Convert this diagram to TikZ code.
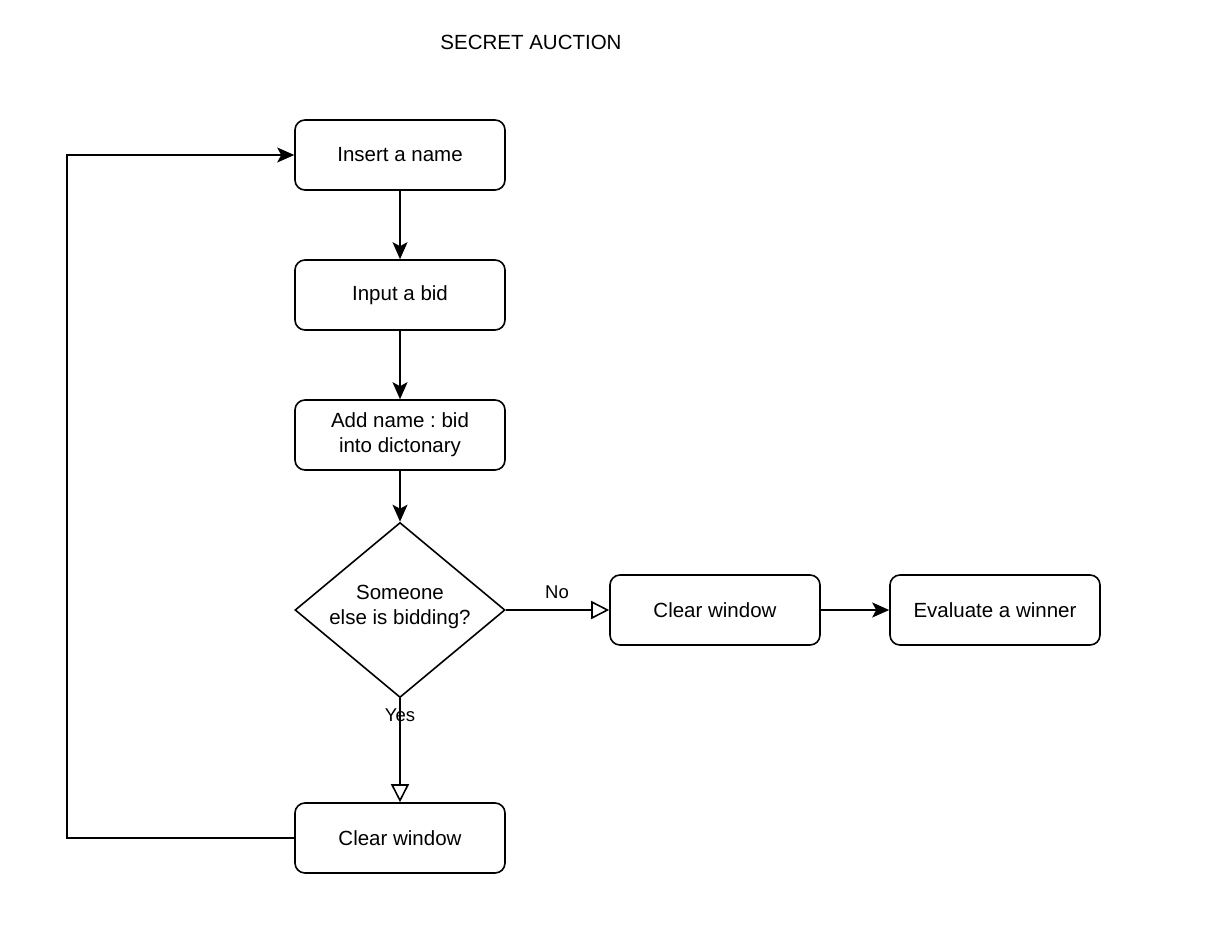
\documentclass[tikz,border=0pt]{standalone}
\usepackage{fontspec}
\setmainfont{Liberation Sans}
\frenchspacing
\usetikzlibrary{shapes.geometric,arrows.meta}
\tikzset{
  stepbox/.style={draw, rectangle, rounded corners=10pt, line width=1.6pt,
    minimum width=210pt, minimum height=70pt, align=center,
    font=\fontsize{20.5}{25}\selectfont},
  decision/.style={draw, diamond, line width=1.6pt, inner sep=0pt,
    minimum width=210pt, minimum height=175pt},
  flow/.style={line width=1.6pt, -{Stealth[length=17pt,width=15pt,inset=4pt]}},
  openflow/.style={line width=1.6pt, -{Triangle[open,length=18pt,width=18pt,fill=white]}},
  edgelabel/.style={font=\fontsize{18.5}{22}\selectfont}
}
\begin{document}
\begin{tikzpicture}[x=1pt,y=-1pt]
        \useasboundingbox[fill=white] (0,0) rectangle (1212,931);
        \node[font=\fontsize{20.5}{25}\selectfont] (title) at (531,42) {SECRET AUCTION};

        \node[stepbox] (name) at (400,155) {Insert a name};
        \node[stepbox] (bid) at (400,295) {Input a bid};
        \node[stepbox] (dict) at (400,435) {Add name : bid\\into dictonary};
        \node[decision] (ask) at (400,610) {};
        \node[align=center, font=\fontsize{20.5}{25}\selectfont] (asktext) at (400,607) {Someone\\else is bidding?};
        \node[stepbox] (clearno) at (715,610) {Clear window};
        \node[stepbox] (winner) at (995,610) {Evaluate a winner};
        \node[stepbox] (clearyes) at (400,838) {Clear window};

        \draw[flow] (name) -- (bid);
        \draw[flow] (bid) -- (dict);
        \draw[flow] (dict) -- (ask);
        \draw[openflow] (ask.east) -- (clearno.west);
        \node[edgelabel] (no) at (557,592) {No};
        \draw[flow] (clearno) -- (winner);
        \draw[openflow] (ask.south) -- (clearyes.north);
        \node[edgelabel] (yes) at (400,715) {Yes};

        % loop back to the start
        \coordinate (turn) at (67,838);
        \draw[flow] (clearyes.west) -- (turn) |- (name.west);
\end{tikzpicture}
\end{document}
